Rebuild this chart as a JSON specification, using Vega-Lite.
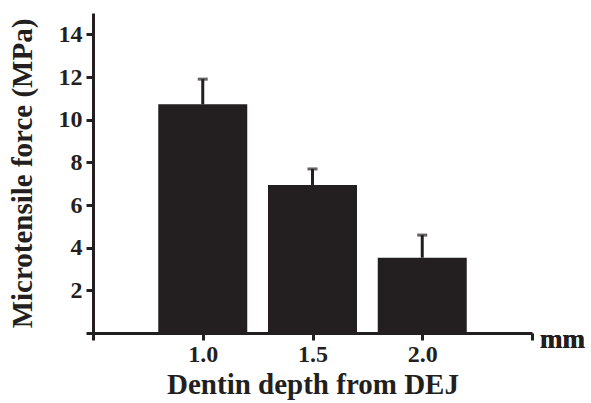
{
  "$schema": "https://vega.github.io/schema/vega-lite/v6.json",
  "autosize": "none",
  "padding": {"left": 93, "top": 13, "right": 59, "bottom": 70},
  "width": 439,
  "height": 320,
  "background": "white",
  "config": {
    "view": {"stroke": null},
    "font": "Liberation Serif",
    "axis": {
      "domainColor": "#231f20",
      "domainWidth": 3,
      "tickColor": "#231f20",
      "tickWidth": 3,
      "tickSize": 7,
      "grid": false,
      "labelFont": "Liberation Serif",
      "labelFontWeight": "bold",
      "labelFontSize": 24,
      "labelColor": "#231f20",
      "titleFont": "Liberation Serif",
      "titleFontWeight": "bold",
      "titleFontSize": 29,
      "titleColor": "#231f20"
    }
  },
  "data": {
    "values": [
      {"depth": 1.0, "force": 10.72, "upper": 11.9},
      {"depth": 1.5, "force": 6.94, "upper": 7.69},
      {"depth": 2.0, "force": 3.53, "upper": 4.59}
    ]
  },
  "layer": [
    {
      "mark": {"type": "bar", "size": 89, "color": "#231f20"},
      "encoding": {
        "x": {
          "field": "depth",
          "type": "quantitative",
          "scale": {"domain": [0.5, 2.5], "nice": false, "zero": false, "padding": 0},
          "axis": {
            "title": "Dentin depth from DEJ",
            "values": [0.5, 1.0, 1.5, 2.0, 2.5],
            "labelExpr": "datum.value == 0.5 || datum.value == 2.5 ? '' : format(datum.value, '.1f')",
            "labelPadding": 2,
            "titlePadding": 4
          }
        },
        "y": {
          "field": "force",
          "type": "quantitative",
          "scale": {"domain": [0, 15], "nice": false},
          "axis": {
            "title": "Microtensile force (MPa)",
            "values": [0, 2, 4, 6, 8, 10, 12, 14],
            "labelExpr": "datum.value == 0 ? '' : datum.value",
            "labelPadding": 4,
            "titlePadding": 21
          }
        }
      }
    },
    {
      "mark": {"type": "rule", "color": "#231f20", "strokeWidth": 3},
      "encoding": {
        "x": {"field": "depth", "type": "quantitative"},
        "y": {"field": "force", "type": "quantitative"},
        "y2": {"field": "upper"}
      }
    },
    {
      "mark": {"type": "tick", "orient": "horizontal", "color": "#231f20", "size": 10, "thickness": 3},
      "encoding": {
        "x": {"field": "depth", "type": "quantitative"},
        "y": {"field": "upper", "type": "quantitative"}
      }
    },
    {
      "mark": {"type": "text", "text": "mm", "font": "Liberation Serif", "fontWeight": "bold", "fontSize": 27, "align": "left", "baseline": "middle", "dx": 8, "dy": 7, "color": "#231f20"},
      "encoding": {
        "x": {"datum": 2.5},
        "y": {"datum": 0}
      }
    }
  ]
}
